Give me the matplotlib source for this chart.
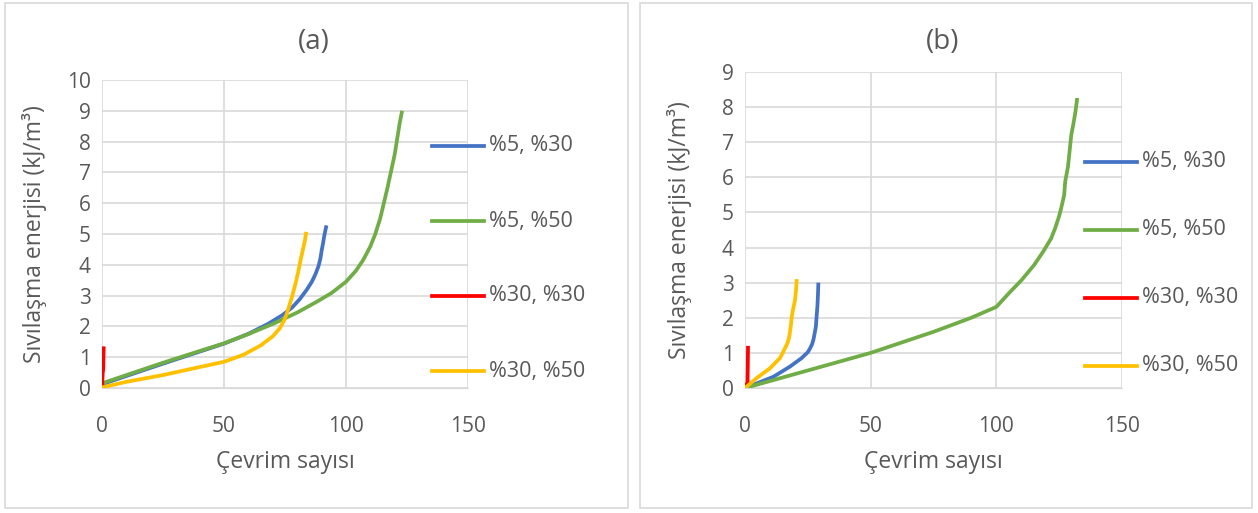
import matplotlib
matplotlib.use("Agg")
import matplotlib.pyplot as plt
from matplotlib.patches import Rectangle
from matplotlib.lines import Line2D

plt.rcParams["font.family"] = ["Open Sans", "DejaVu Sans"]

W, H = 1258, 513

series_labels = ["%5, %30", "%5, %50", "%30, %30", "%30, %50"]
series_colors = ["#4472C4", "#70AD47", "#FF0000", "#FFC000"]

# panel (a)
a_blue_x = [0, 10, 25, 40, 50, 60, 68, 74, 78, 81, 84, 86, 87.5, 88.7, 89.5, 90.1, 90.6, 91.0, 91.5, 92.0]
a_blue_y = [0.12, 0.39, 0.79, 1.18, 1.44, 1.76, 2.08, 2.37, 2.62, 2.88, 3.2, 3.45, 3.7, 3.95, 4.2, 4.5, 4.7, 4.9, 5.1, 5.28]
a_green_x = [0, 10, 25, 40, 50, 60, 70, 80, 88, 94, 100, 104, 107, 110, 112, 114, 115.5, 117, 118.5, 120, 121, 122, 123]
a_green_y = [0.15, 0.42, 0.82, 1.2, 1.45, 1.75, 2.08, 2.45, 2.8, 3.08, 3.45, 3.8, 4.15, 4.6, 5.0, 5.5, 6.0, 6.5, 7.05, 7.6, 8.1, 8.6, 9.0]
a_red_x = [0, 0.3, 0.5, 0.6, 0.7]
a_red_y = [0, 0.5, 0.6, 1.0, 1.35]
a_yellow_x = [0, 10, 25, 40, 50, 58, 65, 70, 73, 75, 76.5, 78, 79.5, 80.5, 81.5, 82.5, 83.2, 83.7]
a_yellow_y = [0.02, 0.2, 0.42, 0.68, 0.85, 1.08, 1.38, 1.68, 1.95, 2.25, 2.6, 3.0, 3.45, 3.8, 4.2, 4.55, 4.8, 5.07]

# panel (b)
b_blue_x = [0, 4.6, 11.3, 17.9, 22.5, 25.0, 25.9, 26.7, 27.2, 27.7, 28.2, 28.5, 28.8, 29.0, 29.2]
b_blue_y = [0, 0.13, 0.32, 0.61, 0.85, 1.02, 1.13, 1.25, 1.37, 1.55, 1.75, 2.05, 2.32, 2.6, 3.0]
b_green_x = [0, 25, 50, 75, 90, 100, 105, 110, 115, 118.6, 121.8, 123.4, 125.0, 125.8, 127.0, 127.4, 128.5, 129, 129.8, 130.6, 131.4, 132.2]
b_green_y = [0, 0.5, 1.0, 1.6, 2.0, 2.31, 2.7, 3.07, 3.5, 3.88, 4.26, 4.55, 4.9, 5.12, 5.5, 5.88, 6.3, 6.64, 7.2, 7.5, 7.83, 8.26]
b_red_x = [0, 0.5, 1.0, 1.1, 1.2]
b_red_y = [0, 0.1, 0.15, 0.6, 1.2]
b_yellow_x = [0, 4.6, 9.9, 13.9, 15.9, 17.0, 17.6, 18.2, 18.6, 19.3, 19.9, 20.3, 20.6]
b_yellow_y = [0, 0.28, 0.56, 0.85, 1.13, 1.3, 1.46, 1.75, 2.03, 2.3, 2.5, 2.8, 3.1]

panels = [
    dict(title="(a)", box=(5, 3, 628, 508), area=(102, 80, 468, 388), ymax=10,
         xs=[a_blue_x, a_green_x, a_red_x, a_yellow_x],
         ys=[a_blue_y, a_green_y, a_red_y, a_yellow_y],
         title_y=42, xlabel_y=462, ylabel_x=35,
         leg=(432, 146, 75)),
    dict(title="(b)", box=(640, 3, 1252, 508), area=(745, 72, 1122, 388), ymax=9,
         xs=[b_blue_x, b_green_x, b_red_x, b_yellow_x],
         ys=[b_blue_y, b_green_y, b_red_y, b_yellow_y],
         title_y=42, xlabel_y=462, ylabel_x=680,
         leg=(1085, 162, 68)),
]

text_color = "#595959"
grid_color = "#D9D9D9"

fig = plt.figure(figsize=(W / 100, H / 100), dpi=100)

for p in panels:
    x0, y0, x1, y1 = p["box"]
    fig.patches.append(Rectangle((x0 / W, 1 - y1 / H), (x1 - x0) / W, (y1 - y0) / H,
                                 transform=fig.transFigure, fill=False,
                                 edgecolor=grid_color, linewidth=1.2))
    l, t, r, b = p["area"]
    ax = fig.add_axes([l / W, 1 - b / H, (r - l) / W, (b - t) / H])
    for xs, ys, c in zip(p["xs"], p["ys"], series_colors):
        ax.plot(xs, ys, color=c, linewidth=2.7, solid_capstyle="butt")
    ax.set_xlim(0, 150)
    ax.set_ylim(0, p["ymax"])
    ax.set_xticks([0, 50, 100, 150])
    ax.set_yticks(range(0, p["ymax"] + 1))
    ax.grid(True, color=grid_color, linewidth=1.2)
    ax.set_axisbelow(True)
    for s in ax.spines.values():
        s.set_visible(False)
    ax.spines["bottom"].set_visible(True)
    ax.spines["bottom"].set_color(grid_color)
    ax.tick_params(length=0, labelsize=15, colors=text_color, pad=8)
    ax.tick_params(axis="x", pad=20)

    # title is centred on the whole chart box, x label on the plot area
    fig.text(((x0 + x1) / 2 - 3) / W, 1 - p["title_y"] / H, p["title"], ha="center", va="center",
             fontsize=20, color=text_color)
    fig.text(((l + r) / 2) / W, 1 - p["xlabel_y"] / H, "Çevrim sayısı", ha="center", va="center",
             fontsize=16.5, color=text_color)
    fig.text(p["ylabel_x"] / W, 1 - ((t + b) / 2) / H, "Sıvılaşma enerjisi (kJ/m³)",
             ha="center", va="center", rotation=90, fontsize=16.5, color=text_color)

    lx, ly, step = p["leg"]
    for i, (lab, c) in enumerate(zip(series_labels, series_colors)):
        yy = 1 - (ly + i * step) / H
        fig.add_artist(Line2D([lx / W, (lx + 52) / W], [yy, yy], transform=fig.transFigure,
                              color=c, linewidth=2.7))
        fig.text((lx + 57) / W, yy, lab, ha="left", va="center", fontsize=15.5, color=text_color)

fig.savefig("out.png", dpi=100)
